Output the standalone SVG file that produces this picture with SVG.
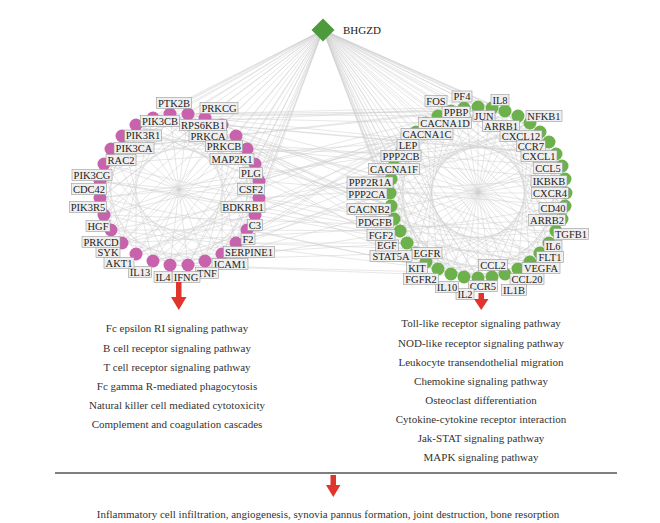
<svg xmlns="http://www.w3.org/2000/svg" width="660" height="523" viewBox="0 0 660 523">
<style>
.e{stroke:#cfcfcf;stroke-width:.5;fill:none}
.p{fill:#c862ad}
.g{fill:#6cb14c}
.lb{fill:#efefef;stroke:#9a9a9a;stroke-width:.6}
.t{font-family:"Liberation Serif","Times New Roman",serif;font-size:10.5px;fill:#222;text-anchor:middle}
.pw{font-family:"Liberation Serif","Times New Roman",serif;font-size:11px;fill:#333;text-anchor:middle}
.ar{fill:#e0342c}
</style>
<rect width="660" height="523" fill="#ffffff"/>
<g id="connectors">
<path class="e" d="M323 30L188 114M323 30L205 118M323 30L222 125M323 30L236 136M323 30L247 149M323 30L255 164M323 30L259 181M323 30L259 198M323 30L255 215M323 30L247 230M323 30L236 243M323 30L222 254M323 30L205 261M323 30L188 265M323 30L170 265M323 30L153 261M323 30L136 254M323 30L122 243M323 30L111 230M323 30L104 215M323 30L100 198M323 30L100 181M323 30L104 164M323 30L111 149M323 30L122 136M323 30L136 125M323 30L153 118M323 30L170 114
M323 30L478 107M323 30L492 108M323 30L505 111M323 30L518 116M323 30L530 123M323 30L540 132M323 30L549 142M323 30L556 154M323 30L562 166M323 30L565 179M323 30L566 193M323 30L565 206M323 30L562 219M323 30L556 231M323 30L549 243M323 30L540 253M323 30L530 262M323 30L518 269M323 30L505 274M323 30L492 277M323 30L478 278M323 30L464 277M323 30L451 274M323 30L438 269M323 30L426 262M323 30L416 253M323 30L407 243M323 30L400 231M323 30L394 219M323 30L391 206M323 30L390 193M323 30L391 179M323 30L394 166M323 30L400 154M323 30L407 142M323 30L416 132M323 30L426 123M323 30L438 116M323 30L451 111M323 30L464 108"/>
<path class="e" d="M188 114L247 230M205 118L236 243M222 125L222 254M236 136L205 261M247 149L188 265M255 164L170 265M259 181L153 261M259 198L136 254M255 215L122 243M247 230L111 230M236 243L104 215M222 254L100 198M205 261L100 181M188 265L104 164M170 265L111 149M153 261L122 136M136 254L136 125M122 243L153 118M111 230L170 114M104 215L188 114M100 198L205 118M100 181L222 125M104 164L236 136M111 149L247 149M122 136L255 164M136 125L259 181M153 118L259 198M170 114L255 215
M188 114L170 265M205 118L153 261M222 125L136 254M236 136L122 243M247 149L111 230M255 164L104 215M259 181L100 198M259 198L100 181M255 215L104 164M247 230L111 149M236 243L122 136M222 254L136 125M205 261L153 118M188 265L170 114
M188 114L255 164M205 118L259 181M222 125L259 198M236 136L255 215M247 149L247 230M255 164L236 243M259 181L222 254M259 198L205 261M255 215L188 265M247 230L170 265M236 243L153 261M222 254L136 254M205 261L122 243M188 265L111 230M170 265L104 215M153 261L100 198M136 254L100 181M122 243L104 164M111 230L111 149M104 215L122 136M100 198L136 125M100 181L153 118M104 164L170 114M111 149L188 114M122 136L205 118M136 125L222 125M153 118L236 136M170 114L247 149"/>
<path class="e" d="M478 107L556 231M492 108L549 243M505 111L540 253M518 116L530 262M530 123L518 269M540 132L505 274M549 142L492 277M556 154L478 278M562 166L464 277M565 179L451 274M566 193L438 269M565 206L426 262M562 219L416 253M556 231L407 243M549 243L400 231M540 253L394 219M530 262L391 206M518 269L390 193M505 274L391 179M492 277L394 166M478 278L400 154M464 277L407 142M451 274L416 132M438 269L426 123M426 262L438 116M416 253L451 111M407 243L464 108M400 231L478 107M394 219L492 108M391 206L505 111M390 193L518 116M391 179L530 123M394 166L540 132M400 154L549 142M407 142L556 154M416 132L562 166M426 123L565 179M438 116L566 193M451 111L565 206M464 108L562 219
M478 107L478 278M492 108L464 277M505 111L451 274M518 116L438 269M530 123L426 262M540 132L416 253M549 142L407 243M556 154L400 231M562 166L394 219M565 179L391 206M566 193L390 193M565 206L391 179M562 219L394 166M556 231L400 154M549 243L407 142M540 253L416 132M530 262L426 123M518 269L438 116M505 274L451 111M492 277L464 108
M478 107L556 154M492 108L562 166M505 111L565 179M518 116L566 193M530 123L565 206M540 132L562 219M549 142L556 231M556 154L549 243M562 166L540 253M565 179L530 262M566 193L518 269M565 206L505 274M562 219L492 277M556 231L478 278M549 243L464 277M540 253L451 274M530 262L438 269M518 269L426 262M505 274L416 253M492 277L407 243M478 278L400 231M464 277L394 219M451 274L391 206M438 269L390 193M426 262L391 179M416 253L394 166M407 243L400 154M400 231L407 142M394 219L416 132M391 206L426 123M390 193L438 116M391 179L451 111M394 166L464 108M400 154L478 107M407 142L492 108M416 132L505 111M426 123L518 116M438 116L530 123M451 111L540 132M464 108L549 142"/>
<path class="e" d="M188 114L478 107M188 114L416 253M205 118L556 154M205 118L426 123M222 125L549 243M222 125L556 154M236 136L464 277M236 136L505 274M247 149L394 219M247 149L391 206M255 164L416 132M255 164L478 107M259 181L505 111M259 181L565 206M259 198L565 179M259 198L451 274M255 215L530 262M255 215L400 154M247 230L438 269M247 230L530 123M236 243L390 193M236 243L540 253M222 254L438 116M222 254L407 243M205 261L530 123M205 261L438 116M188 265L565 206M188 265L562 166M170 265L505 274M170 265L492 277M153 261L416 253M153 261L390 193M136 254L394 166M136 254L492 108M122 243L464 108M122 243L562 219M111 230L549 142M111 230L438 269M104 215L556 231M104 215L407 142M100 198L478 278M100 198L540 132M100 181L400 231M100 181L530 262M104 164L407 142M104 164L400 231M111 149L492 108M111 149L451 111M122 136L562 166M122 136L565 179M136 125L540 253M136 125L478 278M153 118L451 274M153 118L391 179M170 114L391 206M170 114L505 111
M188 114L394 166M205 118L390 193M222 125L407 142M236 136L391 179M247 149L400 154M255 164L391 206M259 181L416 132M259 198L394 219M255 215L426 123M247 230L400 231M236 243L407 243M170 114L438 116M153 118L451 111M136 125L464 108"/>
</g>
<g id="node-BHGZD">
<polygon points="323,18.5 334.5,30 323,41.5 311.5,30" fill="#4c9a3c"/>
<text x="343" y="33.5" font-family="Liberation Serif, Times New Roman, serif" font-size="11" fill="#222">BHGZD</text>
</g>
<g id="nodes-left">
<g id="node-PRKCG"><circle class="p" cx="188" cy="114" r="6.5"/></g>
<g id="node-RPS6KB1"><circle class="p" cx="205" cy="118" r="6.5"/></g>
<g id="node-PRKCA"><circle class="p" cx="222" cy="125" r="6.5"/></g>
<g id="node-PRKCB"><circle class="p" cx="236" cy="136" r="6.5"/></g>
<g id="node-MAP2K1"><circle class="p" cx="247" cy="149" r="6.5"/></g>
<g id="node-PLG"><circle class="p" cx="255" cy="164" r="6.5"/></g>
<g id="node-CSF2"><circle class="p" cx="259" cy="181" r="6.5"/></g>
<g id="node-BDKRB1"><circle class="p" cx="259" cy="198" r="6.5"/></g>
<g id="node-C3"><circle class="p" cx="255" cy="215" r="6.5"/></g>
<g id="node-F2"><circle class="p" cx="247" cy="230" r="6.5"/></g>
<g id="node-SERPINE1"><circle class="p" cx="236" cy="243" r="6.5"/></g>
<g id="node-ICAM1"><circle class="p" cx="222" cy="254" r="6.5"/></g>
<g id="node-TNF"><circle class="p" cx="205" cy="261" r="6.5"/></g>
<g id="node-IFNG"><circle class="p" cx="188" cy="265" r="6.5"/></g>
<g id="node-IL4"><circle class="p" cx="170" cy="265" r="6.5"/></g>
<g id="node-IL13"><circle class="p" cx="153" cy="261" r="6.5"/></g>
<g id="node-AKT1"><circle class="p" cx="136" cy="254" r="6.5"/></g>
<g id="node-SYK"><circle class="p" cx="122" cy="243" r="6.5"/></g>
<g id="node-PRKCD"><circle class="p" cx="111" cy="230" r="6.5"/></g>
<g id="node-HGF"><circle class="p" cx="104" cy="215" r="6.5"/></g>
<g id="node-PIK3R5"><circle class="p" cx="100" cy="198" r="6.5"/></g>
<g id="node-CDC42"><circle class="p" cx="100" cy="181" r="6.5"/></g>
<g id="node-PIK3CG"><circle class="p" cx="104" cy="164" r="6.5"/></g>
<g id="node-RAC2"><circle class="p" cx="111" cy="149" r="6.5"/></g>
<g id="node-PIK3CA"><circle class="p" cx="122" cy="136" r="6.5"/></g>
<g id="node-PIK3R1"><circle class="p" cx="136" cy="125" r="6.5"/></g>
<g id="node-PIK3CB"><circle class="p" cx="153" cy="118" r="6.5"/></g>
<g id="node-PTK2B"><circle class="p" cx="170" cy="114" r="6.5"/></g>
</g>
<g id="nodes-right">
<g id="node-JUN"><circle class="g" cx="478" cy="107" r="6.5"/></g>
<g id="node-IL8"><circle class="g" cx="492" cy="108" r="6.5"/></g>
<g id="node-ARRB1"><circle class="g" cx="505" cy="111" r="6.5"/></g>
<g id="node-NFKB1"><circle class="g" cx="518" cy="116" r="6.5"/></g>
<g id="node-CXCL12"><circle class="g" cx="530" cy="123" r="6.5"/></g>
<g id="node-CCR7"><circle class="g" cx="540" cy="132" r="6.5"/></g>
<g id="node-CXCL1"><circle class="g" cx="549" cy="142" r="6.5"/></g>
<g id="node-CCL5"><circle class="g" cx="556" cy="154" r="6.5"/></g>
<g id="node-IKBKB"><circle class="g" cx="562" cy="166" r="6.5"/></g>
<g id="node-CXCR4"><circle class="g" cx="565" cy="179" r="6.5"/></g>
<g id="node-CD40"><circle class="g" cx="566" cy="193" r="6.5"/></g>
<g id="node-ARRB2"><circle class="g" cx="565" cy="206" r="6.5"/></g>
<g id="node-TGFB1"><circle class="g" cx="562" cy="219" r="6.5"/></g>
<g id="node-IL6"><circle class="g" cx="556" cy="231" r="6.5"/></g>
<g id="node-FLT1"><circle class="g" cx="549" cy="243" r="6.5"/></g>
<g id="node-VEGFA"><circle class="g" cx="540" cy="253" r="6.5"/></g>
<g id="node-CCL20"><circle class="g" cx="530" cy="262" r="6.5"/></g>
<g id="node-CCL2"><circle class="g" cx="518" cy="269" r="6.5"/></g>
<g id="node-IL1B"><circle class="g" cx="505" cy="274" r="6.5"/></g>
<g id="node-CCR5"><circle class="g" cx="492" cy="277" r="6.5"/></g>
<g id="node-IL2"><circle class="g" cx="478" cy="278" r="6.5"/></g>
<g id="node-IL10"><circle class="g" cx="464" cy="277" r="6.5"/></g>
<g id="node-FGFR2"><circle class="g" cx="451" cy="274" r="6.5"/></g>
<g id="node-KIT"><circle class="g" cx="438" cy="269" r="6.5"/></g>
<g id="node-EGFR"><circle class="g" cx="426" cy="262" r="6.5"/></g>
<g id="node-STAT5A"><circle class="g" cx="416" cy="253" r="6.5"/></g>
<g id="node-EGF"><circle class="g" cx="407" cy="243" r="6.5"/></g>
<g id="node-FGF2"><circle class="g" cx="400" cy="231" r="6.5"/></g>
<g id="node-PDGFB"><circle class="g" cx="394" cy="219" r="6.5"/></g>
<g id="node-CACNB2"><circle class="g" cx="391" cy="206" r="6.5"/></g>
<g id="node-PPP2CA"><circle class="g" cx="390" cy="193" r="6.5"/></g>
<g id="node-PPP2R1A"><circle class="g" cx="391" cy="179" r="6.5"/></g>
<g id="node-CACNA1F"><circle class="g" cx="394" cy="166" r="6.5"/></g>
<g id="node-PPP2CB"><circle class="g" cx="400" cy="154" r="6.5"/></g>
<g id="node-LEP"><circle class="g" cx="407" cy="142" r="6.5"/></g>
<g id="node-CACNA1C"><circle class="g" cx="416" cy="132" r="6.5"/></g>
<g id="node-CACNA1D"><circle class="g" cx="426" cy="123" r="6.5"/></g>
<g id="node-PPBP"><circle class="g" cx="438" cy="116" r="6.5"/></g>
<g id="node-FOS"><circle class="g" cx="451" cy="111" r="6.5"/></g>
<g id="node-PF4"><circle class="g" cx="464" cy="108" r="6.5"/></g>
</g>
<g id="labels-left">
<g id="label-PRKCG"><rect class="lb" x="200" y="102.5" width="38" height="11"/><text class="t" x="219" y="111.7">PRKCG</text></g>
<g id="label-RPS6KB1"><rect class="lb" x="179.5" y="119.5" width="47" height="11"/><text class="t" x="203" y="128.7">RPS6KB1</text></g>
<g id="label-PRKCA"><rect class="lb" x="189" y="130.5" width="38" height="11"/><text class="t" x="208" y="139.7">PRKCA</text></g>
<g id="label-PRKCB"><rect class="lb" x="205.5" y="140.5" width="37" height="11"/><text class="t" x="224" y="149.7">PRKCB</text></g>
<g id="label-MAP2K1"><rect class="lb" x="210" y="153.5" width="44" height="11"/><text class="t" x="232" y="162.7">MAP2K1</text></g>
<g id="label-PLG"><rect class="lb" x="239.5" y="167.5" width="23" height="11"/><text class="t" x="251" y="176.7">PLG</text></g>
<g id="label-CSF2"><rect class="lb" x="237.5" y="183.5" width="27" height="11"/><text class="t" x="251" y="192.7">CSF2</text></g>
<g id="label-BDKRB1"><rect class="lb" x="221" y="201.5" width="44" height="11"/><text class="t" x="243" y="210.7">BDKRB1</text></g>
<g id="label-C3"><rect class="lb" x="247.5" y="219.5" width="15" height="11"/><text class="t" x="255" y="228.7">C3</text></g>
<g id="label-F2"><rect class="lb" x="241" y="233.5" width="14" height="11"/><text class="t" x="248" y="242.7">F2</text></g>
<g id="label-SERPINE1"><rect class="lb" x="223.5" y="246.5" width="51" height="11"/><text class="t" x="249" y="255.7">SERPINE1</text></g>
<g id="label-ICAM1"><rect class="lb" x="212" y="258.5" width="36" height="11"/><text class="t" x="230" y="267.7">ICAM1</text></g>
<g id="label-TNF"><rect class="lb" x="195.5" y="267.5" width="23" height="11"/><text class="t" x="207" y="276.7">TNF</text></g>
<g id="label-IFNG"><rect class="lb" x="172" y="271.5" width="28" height="11"/><text class="t" x="186" y="280.7">IFNG</text></g>
<g id="label-IL4"><rect class="lb" x="154" y="271.5" width="18" height="11"/><text class="t" x="163" y="280.7">IL4</text></g>
<g id="label-IL13"><rect class="lb" x="128.5" y="266.5" width="23" height="11"/><text class="t" x="140" y="275.7">IL13</text></g>
<g id="label-AKT1"><rect class="lb" x="104" y="257.5" width="30" height="11"/><text class="t" x="119" y="266.7">AKT1</text></g>
<g id="label-SYK"><rect class="lb" x="96" y="246.5" width="24" height="11"/><text class="t" x="108" y="255.7">SYK</text></g>
<g id="label-PRKCD"><rect class="lb" x="82" y="236.5" width="38" height="11"/><text class="t" x="101" y="245.7">PRKCD</text></g>
<g id="label-HGF"><rect class="lb" x="86" y="220.5" width="24" height="11"/><text class="t" x="98" y="229.7">HGF</text></g>
<g id="label-PIK3R5"><rect class="lb" x="69.5" y="201.5" width="37" height="11"/><text class="t" x="88" y="210.7">PIK3R5</text></g>
<g id="label-CDC42"><rect class="lb" x="71.5" y="183.5" width="35" height="11"/><text class="t" x="89" y="192.7">CDC42</text></g>
<g id="label-PIK3CG"><rect class="lb" x="72" y="169.5" width="40" height="11"/><text class="t" x="92" y="178.7">PIK3CG</text></g>
<g id="label-RAC2"><rect class="lb" x="106" y="154.5" width="30" height="11"/><text class="t" x="121" y="163.7">RAC2</text></g>
<g id="label-PIK3CA"><rect class="lb" x="114" y="142.5" width="40" height="11"/><text class="t" x="134" y="151.7">PIK3CA</text></g>
<g id="label-PIK3R1"><rect class="lb" x="124.5" y="130" width="37" height="11"/><text class="t" x="143" y="139.2">PIK3R1</text></g>
<g id="label-PIK3CB"><rect class="lb" x="140.5" y="115.5" width="39" height="11"/><text class="t" x="160" y="124.7">PIK3CB</text></g>
<g id="label-PTK2B"><rect class="lb" x="156.5" y="97.5" width="35" height="11"/><text class="t" x="174" y="106.7">PTK2B</text></g>
</g>
<g id="labels-right">
<g id="label-JUN"><rect class="lb" x="473" y="110.5" width="22" height="11"/><text class="t" x="484" y="119.7">JUN</text></g>
<g id="label-IL8"><rect class="lb" x="491" y="94.5" width="18" height="11"/><text class="t" x="500" y="103.7">IL8</text></g>
<g id="label-ARRB1"><rect class="lb" x="482.5" y="120.5" width="37" height="11"/><text class="t" x="501" y="129.7">ARRB1</text></g>
<g id="label-NFKB1"><rect class="lb" x="526" y="110.5" width="36" height="11"/><text class="t" x="544" y="119.7">NFKB1</text></g>
<g id="label-CXCL12"><rect class="lb" x="500" y="130.5" width="42" height="11"/><text class="t" x="521" y="139.7">CXCL12</text></g>
<g id="label-CCR7"><rect class="lb" x="516.5" y="140.5" width="29" height="11"/><text class="t" x="531" y="149.7">CCR7</text></g>
<g id="label-CXCL1"><rect class="lb" x="521" y="150.5" width="36" height="11"/><text class="t" x="539" y="159.7">CXCL1</text></g>
<g id="label-CCL5"><rect class="lb" x="533.5" y="162.5" width="29" height="11"/><text class="t" x="548" y="171.7">CCL5</text></g>
<g id="label-IKBKB"><rect class="lb" x="531" y="175.5" width="36" height="11"/><text class="t" x="549" y="184.7">IKBKB</text></g>
<g id="label-CXCR4"><rect class="lb" x="531.5" y="187.5" width="37" height="11"/><text class="t" x="550" y="196.7">CXCR4</text></g>
<g id="label-CD40"><rect class="lb" x="539" y="202.5" width="28" height="11"/><text class="t" x="553" y="211.7">CD40</text></g>
<g id="label-ARRB2"><rect class="lb" x="528.5" y="214.5" width="37" height="11"/><text class="t" x="547" y="223.7">ARRB2</text></g>
<g id="label-TGFB1"><rect class="lb" x="553.5" y="228.5" width="35" height="11"/><text class="t" x="571" y="237.7">TGFB1</text></g>
<g id="label-IL6"><rect class="lb" x="544" y="240.5" width="18" height="11"/><text class="t" x="553" y="249.7">IL6</text></g>
<g id="label-FLT1"><rect class="lb" x="536.5" y="251.5" width="27" height="11"/><text class="t" x="550" y="260.7">FLT1</text></g>
<g id="label-VEGFA"><rect class="lb" x="522" y="262.5" width="38" height="11"/><text class="t" x="541" y="271.7">VEGFA</text></g>
<g id="label-CCL20"><rect class="lb" x="510" y="273.5" width="34" height="11"/><text class="t" x="527" y="282.7">CCL20</text></g>
<g id="label-CCL2"><rect class="lb" x="478.5" y="259.5" width="29" height="11"/><text class="t" x="493" y="268.7">CCL2</text></g>
<g id="label-IL1B"><rect class="lb" x="501.5" y="284.5" width="25" height="11"/><text class="t" x="514" y="293.7">IL1B</text></g>
<g id="label-CCR5"><rect class="lb" x="468.5" y="280.5" width="29" height="11"/><text class="t" x="483" y="289.7">CCR5</text></g>
<g id="label-IL2"><rect class="lb" x="456" y="288.5" width="18" height="11"/><text class="t" x="465" y="297.7">IL2</text></g>
<g id="label-IL10"><rect class="lb" x="435.5" y="281.5" width="23" height="11"/><text class="t" x="447" y="290.7">IL10</text></g>
<g id="label-FGFR2"><rect class="lb" x="403.5" y="273.5" width="35" height="11"/><text class="t" x="421" y="282.7">FGFR2</text></g>
<g id="label-KIT"><rect class="lb" x="406.5" y="262.5" width="21" height="11"/><text class="t" x="417" y="271.7">KIT</text></g>
<g id="label-EGFR"><rect class="lb" x="412" y="247.5" width="30" height="11"/><text class="t" x="427" y="256.7">EGFR</text></g>
<g id="label-STAT5A"><rect class="lb" x="370" y="250.5" width="42" height="11"/><text class="t" x="391" y="259.7">STAT5A</text></g>
<g id="label-EGF"><rect class="lb" x="375.5" y="240" width="23" height="11"/><text class="t" x="387" y="249.2">EGF</text></g>
<g id="label-FGF2"><rect class="lb" x="367" y="229.5" width="28" height="11"/><text class="t" x="381" y="238.7">FGF2</text></g>
<g id="label-PDGFB"><rect class="lb" x="356.5" y="216.5" width="37" height="11"/><text class="t" x="375" y="225.7">PDGFB</text></g>
<g id="label-CACNB2"><rect class="lb" x="347" y="203.5" width="44" height="11"/><text class="t" x="369" y="212.7">CACNB2</text></g>
<g id="label-PPP2CA"><rect class="lb" x="347" y="188.5" width="40" height="11"/><text class="t" x="367" y="197.7">PPP2CA</text></g>
<g id="label-PPP2R1A"><rect class="lb" x="347" y="177" width="46" height="11"/><text class="t" x="370" y="186.2">PPP2R1A</text></g>
<g id="label-CACNA1F"><rect class="lb" x="368.5" y="163.5" width="51" height="11"/><text class="t" x="394" y="172.7">CACNA1F</text></g>
<g id="label-PPP2CB"><rect class="lb" x="381" y="150.5" width="40" height="11"/><text class="t" x="401" y="159.7">PPP2CB</text></g>
<g id="label-LEP"><rect class="lb" x="397" y="139.5" width="22" height="11"/><text class="t" x="408" y="148.7">LEP</text></g>
<g id="label-CACNA1C"><rect class="lb" x="401" y="128.5" width="52" height="11"/><text class="t" x="427" y="137.7">CACNA1C</text></g>
<g id="label-CACNA1D"><rect class="lb" x="418.5" y="117.5" width="53" height="11"/><text class="t" x="445" y="126.7">CACNA1D</text></g>
<g id="label-PPBP"><rect class="lb" x="442" y="106.5" width="28" height="11"/><text class="t" x="456" y="115.7">PPBP</text></g>
<g id="label-FOS"><rect class="lb" x="425" y="95.5" width="22" height="11"/><text class="t" x="436" y="104.7">FOS</text></g>
<g id="label-PF4"><rect class="lb" x="452" y="91" width="20" height="11"/><text class="t" x="462" y="100.2">PF4</text></g>
</g>
<g id="arrow-left"><rect class="ar" x="176" y="282" width="5.5" height="17"/><polygon class="ar" points="171,297 186.5,297 178.75,310"/></g>
<g id="arrow-right"><rect class="ar" x="478.5" y="293" width="5.5" height="8"/><polygon class="ar" points="474,299 488.5,299 481.25,310"/></g>
<g id="pathways-left">
<text class="pw" x="177" y="331.5">Fc epsilon RI signaling pathway</text>
<text class="pw" x="177" y="351.5">B cell receptor signaling pathway</text>
<text class="pw" x="177" y="370.5">T cell receptor signaling pathway</text>
<text class="pw" x="177" y="389.5">Fc gamma R-mediated phagocytosis</text>
<text class="pw" x="177" y="408.5">Natural killer cell mediated cytotoxicity</text>
<text class="pw" x="177" y="427.5">Complement and coagulation cascades</text>
</g>
<g id="pathways-right">
<text class="pw" x="481" y="326.5">Toll-like receptor signaling pathway</text>
<text class="pw" x="481" y="346.5">NOD-like receptor signaling pathway</text>
<text class="pw" x="481" y="365.5">Leukocyte transendothelial migration</text>
<text class="pw" x="481" y="384.5">Chemokine signaling pathway</text>
<text class="pw" x="481" y="403.5">Osteoclast differentiation</text>
<text class="pw" x="481" y="422.5">Cytokine-cytokine receptor interaction</text>
<text class="pw" x="481" y="441.5">Jak-STAT signaling pathway</text>
<text class="pw" x="481" y="460.5">MAPK signaling pathway</text>
</g>
<line x1="55" y1="473" x2="617" y2="473" stroke="#555" stroke-width="1.5"/>
<g id="arrow-bottom"><rect class="ar" x="330.5" y="475" width="5.5" height="11"/><polygon class="ar" points="326,485 340.5,485 333.25,497"/></g>
<text class="pw" x="328" y="517.5">Inflammatory cell infiltration, angiogenesis, synovia pannus formation, joint destruction, bone resorption</text>
</svg>
